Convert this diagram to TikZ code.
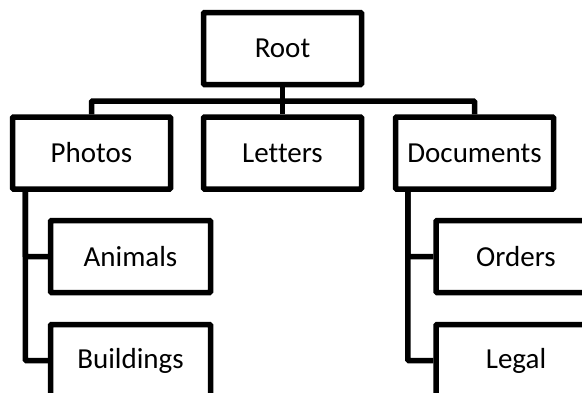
\documentclass[tikz,border=0pt]{standalone}
\usepackage{fontspec}
\setmainfont[Ligatures=NoCommon]{Carlito}
\begin{document}
\begin{tikzpicture}[x=1pt,y=-1pt,
  box/.style={draw=black,fill=white,line width=5.5pt,rounded corners=1pt,
    minimum width=158pt,minimum height=72pt,inner sep=0pt,
    font=\fontsize{29}{34}\selectfont},
  kid/.style={box,minimum width=160pt},
  link/.style={draw=black,line width=5.5pt,rounded corners=1pt}]
\useasboundingbox (0,0) rectangle (582,392);
\clip (0,0) rectangle (582,392);
\node[box] (root) at (282.5,48.5) {Root};
\node[box] (photos) at (91.5,153) {Photos};
\node[box] (letters) at (282.5,153) {Letters};
\node[box] (docs) at (474.5,153) {Documents};
\node[kid] (animals) at (130.5,256.5) {Animals};
\node[kid] (buildings) at (130.5,360.5) {Buildings};
\node[kid] (orders) at (516,256.5) {Orders};
\node[kid] (legal) at (516,360.5) {Legal};
\coordinate (bus) at (282.5,101);
\coordinate (pt) at ([xshift=15.5pt]photos.south west);
\coordinate (dt) at ([xshift=15pt]docs.south west);
\path[link] (root.south) -- (letters.north);
\path[link] (photos.north) |- (bus) -| (docs.north);
\path[link] (pt) |- (animals.west);
\path[link] (pt) |- (buildings.west);
\path[link] (dt) |- (orders.west);
\path[link] (dt) |- (legal.west);
\end{tikzpicture}
\end{document}
